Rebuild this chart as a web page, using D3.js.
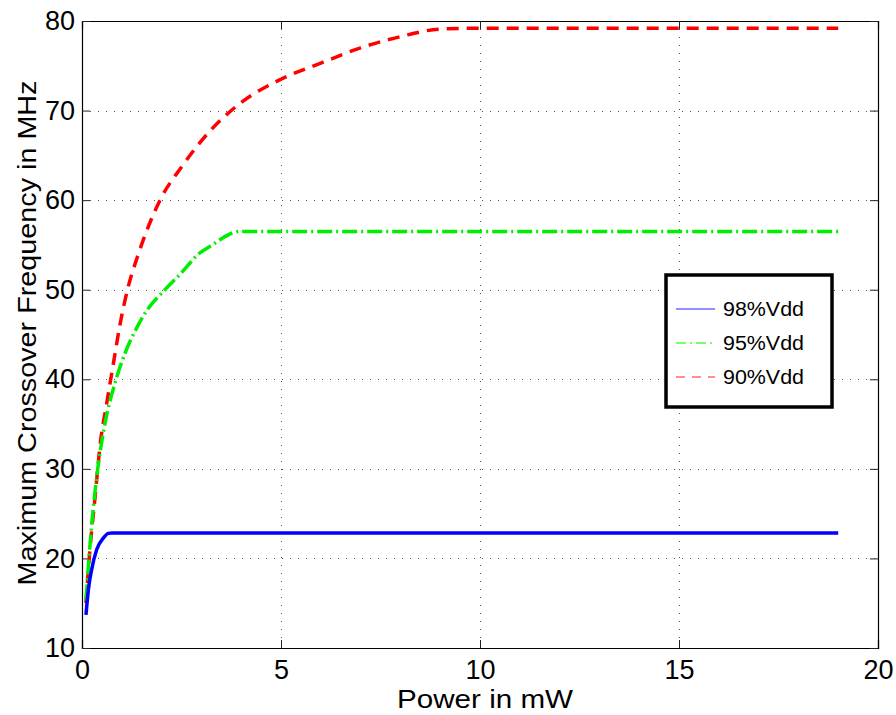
<!DOCTYPE html>
<html>
<head>
<meta charset="utf-8">
<script src="https://cdn.jsdelivr.net/npm/d3@7"></script>
<style>
  body { margin: 0; background: #fff; }
  svg { display: block; font-family: "Liberation Sans", Arial, sans-serif; }
</style>
</head>
<body>
<svg id="chart" width="896" height="715"></svg>
<script>
// values
const xTicks = [0, 5, 10, 15, 20];
const yTicks = [10, 20, 30, 40, 50, 60, 70, 80];
const vdd98 = [[0.1,13.7],[0.16,16.5],[0.24,18.7],[0.37,21.0],[0.54,22.3],[0.66,22.8],[0.75,22.85],[19,22.85]];
const vdd95 = [[0.1,15.4],[0.24,23.6],[0.37,29.1],[0.58,35.1],[0.83,39.6],[1.08,42.9],[1.37,45.7],[1.63,47.7],
               [2.04,49.8],[2.46,51.7],[2.96,54.1],[3.2,54.8],[3.97,56.5],[19,56.5]];
const vdd90 = [[0.1,15.0],[0.2,21.0],[0.33,26.9],[0.45,32.5],[0.62,37.3],[0.79,41.8],[0.95,46.0],[1.16,50.3],
               [1.41,53.9],[1.96,60.0],[2.5,63.7],[3.17,67.5],[3.97,70.8],[5.0,73.5],[6.0,75.3],[7.0,77.0],
               [8.0,78.25],[9.0,79.1],[10,79.2],[19,79.2]];
const seriesNames = ['98%Vdd', '95%Vdd', '90%Vdd'];

const series = [
    {name: seriesNames[0], data: vdd98, color: '#0000ff', dash: null, legDash: null, legColor: '#6b6bff'},
    {name: seriesNames[1], data: vdd95, color: '#00ee00', dash: '15,4,2,4', legDash: '10,4,2,4', legColor: '#44ff44'},
    {name: seriesNames[2], data: vdd90, color: '#ff0000', dash: '12,8', legDash: '9,7', legColor: '#ff6a6a'},
];

const svg = d3.select('#chart');
const L = 82, R = 878, T = 21, B = 648;
const x = d3.scaleLinear().domain([0, 20]).range([L, R]);
const y = d3.scaleLinear().domain([10, 80]).range([B, T]);

// grid (dotted, MATLAB style)
const grid = svg.append('g').attr('stroke', '#555').attr('stroke-width', 1).attr('stroke-dasharray', '1,7');
grid.selectAll('.gx').data(xTicks.slice(1, -1)).join('line')
    .attr('x1', d => Math.round(x(d)) + 0.5).attr('x2', d => Math.round(x(d)) + 0.5)
    .attr('y1', T).attr('y2', B);
grid.selectAll('.gy').data(yTicks.slice(1, -1)).join('line')
    .attr('y1', d => Math.round(y(d)) + 0.5).attr('y2', d => Math.round(y(d)) + 0.5)
    .attr('x1', L).attr('x2', R);

// axes: ticks pointing inward on all four sides
const tick = 8;
svg.append('g').attr('transform', `translate(0,${B})`)
    .call(d3.axisBottom(x).tickValues(xTicks).tickSize(-tick).tickPadding(12).tickFormat(d3.format('d')));
svg.append('g').attr('transform', `translate(0,${T})`)
    .call(d3.axisTop(x).tickValues(xTicks).tickSize(-tick).tickFormat(''));
svg.append('g').attr('transform', `translate(${L},0)`)
    .call(d3.axisLeft(y).tickValues(yTicks).tickSize(-tick).tickPadding(7).tickFormat(d3.format('d')));
svg.append('g').attr('transform', `translate(${R},0)`)
    .call(d3.axisRight(y).tickValues(yTicks).tickSize(-tick).tickFormat(''));
svg.selectAll('.domain').attr('stroke', '#000').attr('stroke-width', 1.2);
svg.selectAll('.tick line').attr('stroke', '#222');
svg.selectAll('.tick text').attr('font-size', 27).attr('fill', '#000')
    .attr('font-family', '"Liberation Sans", Arial, sans-serif');

// lines
const line = d3.line().x(d => x(d[0])).y(d => y(d[1])).curve(d3.curveMonotoneX);
svg.append('g').selectAll('path').data(series.slice().reverse()).join('path')
    .attr('d', s => line(s.data))
    .attr('fill', 'none')
    .attr('stroke', s => s.color)
    .attr('stroke-width', 3.5)
    .attr('stroke-dasharray', s => s.dash);

// axis labels
svg.append('text').attr('x', 485).attr('y', 708).attr('text-anchor', 'middle')
    .attr('font-size', 25).attr('textLength', 176).attr('lengthAdjust', 'spacingAndGlyphs')
    .text('Power in mW');
svg.append('text').attr('transform', 'translate(36,333) rotate(-90)').attr('text-anchor', 'middle')
    .attr('font-size', 26).attr('textLength', 505).attr('lengthAdjust', 'spacingAndGlyphs')
    .text('Maximum Crossover Frequency in MHz');

// legend
const leg = svg.append('g');
leg.append('rect').attr('x', 666).attr('y', 275).attr('width', 166).attr('height', 132)
    .attr('fill', '#fff').attr('stroke', '#000').attr('stroke-width', 3.5);
const rows = leg.selectAll('.row').data(series).join('g')
    .attr('transform', (s, i) => `translate(0,${309 + i * 34})`);
rows.append('line').attr('x1', 676).attr('x2', 715)
    .attr('stroke', s => s.legColor).attr('stroke-width', 1.5)
    .attr('stroke-dasharray', s => s.legDash);
rows.append('text').attr('x', 723).attr('y', 7).attr('font-size', 20)
    .attr('textLength', 81).attr('lengthAdjust', 'spacingAndGlyphs')
    .text(s => s.name);
</script>
</body>
</html>
